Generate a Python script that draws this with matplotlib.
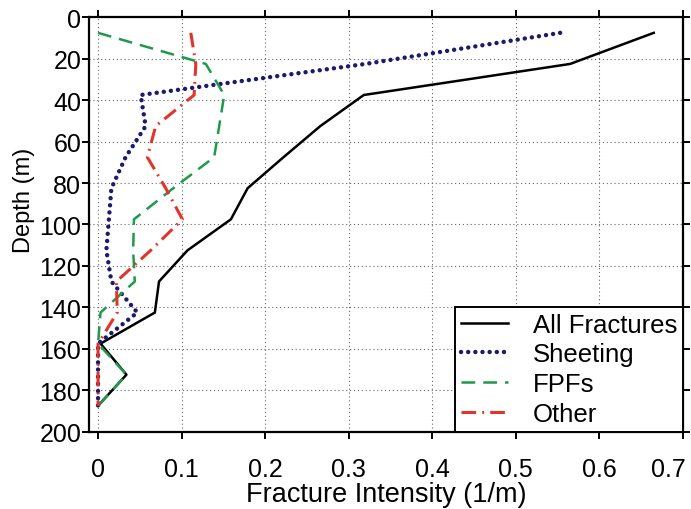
import matplotlib
matplotlib.use("Agg")
import matplotlib.pyplot as plt
import matplotlib.transforms as mtransforms

plt.rcParams["font.family"] = ["Liberation Sans", "DejaVu Sans"]

depth = [7.5, 22.5, 37.5, 52.5, 67.5, 82.5, 97.5, 112.5, 127.5, 142.5, 157.5, 172.5, 187.5]
all_fractures = [0.665, 0.565, 0.318, 0.266, 0.222, 0.179, 0.159, 0.107, 0.073, 0.068, 0.003, 0.034, 0.0]
sheeting = [0.553, 0.32, 0.051, 0.057, 0.033, 0.016, 0.013, 0.010, 0.016, 0.047, 0.0, 0.0, 0.0]
fpfs = [0.0, 0.129, 0.151, 0.145, 0.139, 0.09, 0.043, 0.042, 0.044, 0.003, 0.0, 0.034, 0.0]
other = [0.111, 0.117, 0.115, 0.069, 0.059, 0.081, 0.101, 0.063, 0.022, 0.023, 0.0, 0.0, 0.0]

x_ticks = [0, 0.1, 0.2, 0.3, 0.4, 0.5, 0.6, 0.7]
x_labels = ["0", "0.1", "0.2", "0.3", "0.4", "0.5", "0.6", "0.7"]
y_ticks = [0, 20, 40, 60, 80, 100, 120, 140, 160, 180, 200]

fig = plt.figure(figsize=(6.91, 5.10), dpi=100)
ax = fig.add_axes([0.1288, 0.1516, 0.8596, 0.8125])

ax.plot(all_fractures, depth, color="black", lw=1.8, label="All Fractures")
ax.plot(sheeting, depth, color="#1c1a6e", lw=3.2, linestyle=(0, (0.01, 1.6)),
        dash_capstyle="round", label="Sheeting")
ax.plot(fpfs, depth, color="#1f9a4c", lw=1.8, linestyle=(0, (5.5, 3.2)),
        label="FPFs")
ax.plot(other, depth, color="#e2342a", lw=2.2, linestyle=(0, (4.8, 2.0, 0.6, 2.0)),
        label="Other")

ax.set_xlim(-0.0108, 0.7)
ax.set_ylim(200, 0)
ax.set_xticks(x_ticks)
ax.set_xticklabels(x_labels)
ax.set_yticks(y_ticks)

ax.grid(True, linestyle=(0, (1, 2.5)), color="#666666", lw=0.8)
for s in ax.spines.values():
    s.set_linewidth(1.6)
ax.tick_params(direction="out", length=5, width=1.4, labelsize=18,
               top=True, right=True, labeltop=False, labelright=False)
ax.tick_params(axis="x", pad=13)
ax.tick_params(axis="y", pad=0.5)

# last x label sits left of its tick so it stays inside the figure
shift = mtransforms.ScaledTranslation(-15 / 100, 0, fig.dpi_scale_trans)
last = ax.get_xticklabels()[-1]
last.set_transform(last.get_transform() + shift)

ax.set_xlabel("Fracture Intensity (1/m)", fontsize=19.5, labelpad=0)
ax.set_ylabel("Depth (m)", fontsize=17)
ax.yaxis.set_label_coords(-0.091, 0.561)

leg = ax.legend(loc="lower right", fontsize=18.5, borderaxespad=0,
                fancybox=False, framealpha=1, edgecolor="black",
                handlelength=1.83, handletextpad=0.97, labelspacing=0.22,
                borderpad=0.23)
leg.get_frame().set_linewidth(1.4)

fig.savefig("out.png", dpi=100)
